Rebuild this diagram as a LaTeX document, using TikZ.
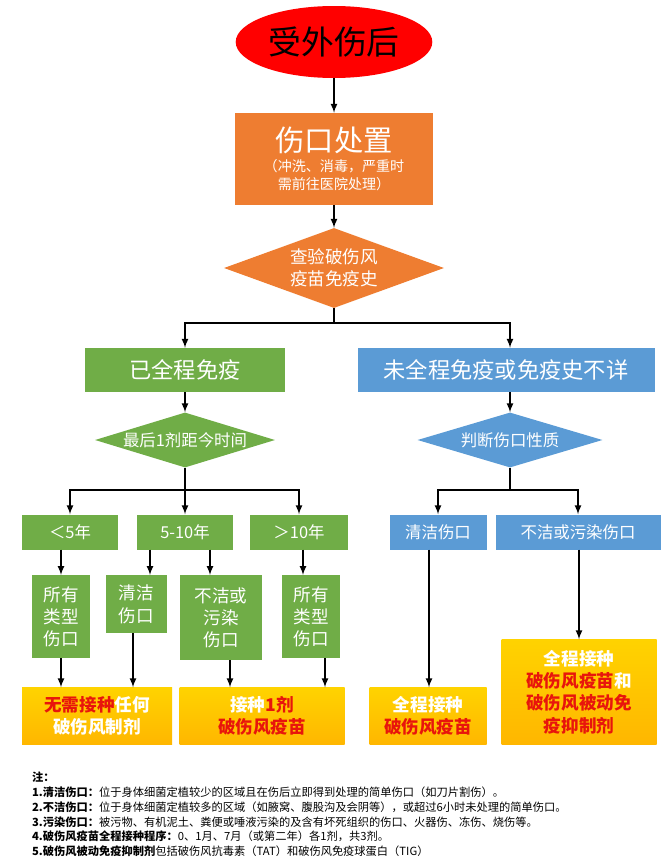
\documentclass[tikz,border=0pt]{standalone}
\usepackage{fontspec}
\setmainfont{Noto Sans CJK SC}
\newfontfamily\notefont[AutoFakeSlant=0.2]{Noto Sans CJK SC}
\usetikzlibrary{shapes.geometric}
\definecolor{hurt}{HTML}{FF0000}
\definecolor{treat}{HTML}{EE7D31}
\definecolor{done}{HTML}{70AD47}
\definecolor{undone}{HTML}{5B9BD5}
\definecolor{shot}{HTML}{FFC000}
\definecolor{redtxt}{HTML}{E8150C}
\tikzset{
  gbox/.style={rectangle, fill=done, text=white, align=center, inner sep=1pt},
  bbox/.style={rectangle, fill=undone, text=white, align=center, inner sep=1pt},
  obox/.style={rectangle, top color=shot!70!yellow, bottom color=shot!85!orange, text=white, align=center, inner sep=1pt, font=\bfseries\fontsize{15}{19}\selectfont},
  ask/.style={diamond, aspect=3.2, align=center, inner sep=0pt},
  flow/.style={-latex, line width=1.6pt},
  link/.style={line width=1.6pt}
}
\begin{document}
\begin{tikzpicture}[x=0.03cm, y=-0.03cm]
\useasboundingbox (0,0) rectangle (668,867);
% top of chart
\node[ellipse, fill=hurt, minimum width=190*0.03cm, minimum height=72*0.03cm, font=\fontsize{28}{30}\selectfont] (injury) at (334,42) {受外伤后};
\node[rectangle, fill=treat, text=white, align=center, minimum width=198*0.03cm, minimum height=92*0.03cm, font=\fontsize{12}{15}\selectfont] (wound) at (334,159)
  {{\fontsize{25}{28}\selectfont 伤口处置}\\[2pt]（冲洗、消毒，严重时\\需前往医院处理）};
\node[ask, fill=treat, text=white, minimum width=220*0.03cm, minimum height=80*0.03cm, font=\fontsize{15}{19}\selectfont] (history) at (334,268) {查验破伤风\\疫苗免疫史};
\draw[flow] (injury) -- (wound);
\draw[flow] (wound) -- (history);
% two branches
\node[gbox, minimum width=200*0.03cm, minimum height=44*0.03cm, font=\fontsize{19}{22}\selectfont] (full) at (185,370) {已全程免疫};
\node[bbox, minimum width=297*0.03cm, minimum height=44*0.03cm, font=\fontsize{19}{22}\selectfont] (notfull) at (506,370) {未全程免疫或免疫史不详};
\coordinate (split) at (334,323);
\draw[link] (history.south) -- (split);
\draw[flow] (split) -| (full.north);
\draw[flow] (split) -| (notfull.north -| 510,0);
\node[ask, fill=done, text=white, minimum width=180*0.03cm, minimum height=55*0.03cm, font=\fontsize{14}{17}\selectfont] (last) at (185,440) {最后1剂距今时间};
\node[ask, fill=undone, text=white, minimum width=185*0.03cm, minimum height=55*0.03cm, font=\fontsize{14}{17}\selectfont] (judge) at (510,440) {判断伤口性质};
\draw[flow] (full) -- (last);
\draw[flow] (notfull.south -| judge.north) -- (judge);
% time since last dose
\node[gbox, minimum width=96*0.03cm, minimum height=35*0.03cm, font=\fontsize{14}{17}\selectfont] (lt5) at (70,532) {＜5年};
\node[gbox, minimum width=96*0.03cm, minimum height=35*0.03cm, font=\fontsize{14}{17}\selectfont] (mid) at (185,532) {5-10年};
\node[gbox, minimum width=98*0.03cm, minimum height=35*0.03cm, font=\fontsize{14}{17}\selectfont] (gt10) at (299,532) {＞10年};
\coordinate (lastfork) at (185,490);
\draw[link] (last.south) -- (lastfork);
\draw[flow] (lastfork) -| (lt5.north);
\draw[flow] (lastfork) -- (mid.north);
\draw[flow] (lastfork) -| (gt10.north);
% wound type
\node[bbox, minimum width=97*0.03cm, minimum height=35*0.03cm, font=\fontsize{14}{17}\selectfont] (clean) at (438,532) {清洁伤口};
\node[bbox, minimum width=165*0.03cm, minimum height=35*0.03cm, font=\fontsize{14}{17}\selectfont] (dirty) at (578,532) {不洁或污染伤口};
\coordinate (judgefork) at (510,490);
\draw[link] (judge.south) -- (judgefork);
\draw[flow] (judgefork) -| (clean.north);
\draw[flow] (judgefork) -| (dirty.north);
% wound boxes under time
\node[gbox, minimum width=58*0.03cm, minimum height=83*0.03cm, anchor=north, font=\fontsize{15}{19}\selectfont] (anyA) at (61,575) {所有\\类型\\伤口};
\node[gbox, minimum width=61*0.03cm, minimum height=58*0.03cm, anchor=north, font=\fontsize{15}{19}\selectfont] (cleanB) at (136,575) {清洁\\伤口};
\node[gbox, minimum width=82*0.03cm, minimum height=85*0.03cm, anchor=north, font=\fontsize{15}{19}\selectfont] (dirtyB) at (221,575) {不洁或\\污染\\伤口};
\node[gbox, minimum width=58*0.03cm, minimum height=83*0.03cm, anchor=north, font=\fontsize{15}{19}\selectfont] (anyC) at (311,575) {所有\\类型\\伤口};
\draw[flow] (lt5.south -| anyA.north) -- (anyA.north);
\draw[flow] (mid.south -| 150,0) -- (150,575);
\draw[flow] (mid.south -| 210,0) -- (210,575);
\draw[flow] (gt10.south -| 303,0) -- (303,575);
% results
\node[obox, minimum width=150*0.03cm, minimum height=57*0.03cm] (none) at (97,716) {\textcolor{redtxt}{无需接种}任何\\破伤风制剂};
\node[obox, minimum width=165*0.03cm, minimum height=57*0.03cm] (one) at (262,716) {接种\textcolor{redtxt}{1剂}\\\textcolor{redtxt}{破伤风疫苗}};
\node[obox, minimum width=117*0.03cm, minimum height=57*0.03cm] (series) at (428,716) {全程接种\\\textcolor{redtxt}{破伤风疫苗}};
\node[obox, minimum width=155*0.03cm, minimum height=105*0.03cm] (both) at (579,692) {全程接种\\\textcolor{redtxt}{破伤风疫苗}和\\\textcolor{redtxt}{破伤风被动免}\\\textcolor{redtxt}{疫抑制剂}};
\draw[flow] (anyA.south) -- (none.north -| anyA.south);
\draw[flow] (cleanB.south -| 133,0) -- (none.north -| 133,0);
\draw[flow] (dirtyB.south -| 230,0) -- (one.north -| 230,0);
\draw[flow] (anyC.south -| 325,0) -- (one.north -| 325,0);
\draw[flow] (clean.south -| 429,0) -- (series.north -| 429,0);
\draw[flow] (dirty.south -| both.north) -- (both.north);
% notes
\node[anchor=north west, align=left, font=\notefont\fontsize{9.6}{12.6}\selectfont] (notes) at (28,768)
 {\textbf{注：}\\
 \textbf{1.清洁伤口：}位于身体细菌定植较少的区域且在伤后立即得到处理的简单伤口（如刀片割伤）。\\
 \textbf{2.不洁伤口：}位于身体细菌定植较多的区域（如腋窝、腹股沟及会阴等），或超过6小时未处理的简单伤口。\\
 \textbf{3.污染伤口：}被污物、有机泥土、粪便或唾液污染的及含有坏死组织的伤口、火器伤、冻伤、烧伤等。\\
 \textbf{4.破伤风疫苗全程接种程序：}0、1月、7月（或第二年）各1剂，共3剂。\\
 \textbf{5.破伤风被动免疫抑制剂}包括破伤风抗毒素（TAT）和破伤风免疫球蛋白（TIG）};
\end{tikzpicture}
\end{document}
